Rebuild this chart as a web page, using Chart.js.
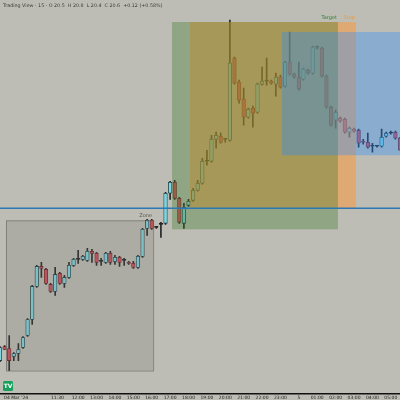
<!DOCTYPE html>
<html>
<head>
<meta charset="utf-8">
<script src="https://cdn.jsdelivr.net/npm/chart.js@4.4.1/dist/chart.umd.min.js"></script>
<style>
  html, body { margin: 0; padding: 0; background: #bebdb5; }
  #wrap { position: relative; width: 400px; height: 400px; overflow: hidden; }
</style>
</head>
<body>
<div id="wrap"><canvas id="chart" width="400" height="403"></canvas></div>
<script>
// candles, one per 15 min bar
const opens  = [40,54,52,44,47,53,65,81,114,134,131,116,109,127,117,123,135,141,141,140,149,147,139,138,147,139,143,140,138,137,133,144,172,180,173,176,177,207,218,202,177,195,200,210,217,239,239,261,264,261,260,342,318,301,283,292,288,316,319,319,316,323,314,338,326,323,321,330,327,353,352,324,293,280,282,281,268,271,270,259,258,254,254,254,264,267,268,262];
const highs  = [54,55,65,48,57,64,82,115,135,138,132,117,133,128,125,138,142,150,145,152,151,148,142,148,149,145,144,142,139,139,145,172,181,181,174,178,208,219,220,203,197,201,212,220,242,250,265,268,267,262,380,343,320,312,292,294,317,333,342,320,327,325,339,368,327,338,332,331,354,354,353,325,294,290,283,282,273,272,271,261,267,257,255,271,268,269,269,263];
const lows   = [39,51,30,40,40,52,64,76,113,123,116,108,105,116,113,122,134,137,140,139,138,135,135,137,136,136,134,135,136,132,132,143,165,171,172,163,176,201,201,177,172,194,199,209,216,235,238,252,257,258,259,316,297,275,282,273,287,315,315,316,304,312,313,325,322,310,320,326,326,351,323,292,274,272,278,267,263,268,253,256,252,248,253,253,263,266,261,250];
const closes = [53,51,40,47,51,63,81,114,134,132,117,109,126,117,123,135,141,141,144,149,147,138,139,147,138,143,138,140,137,133,144,171,180,172,173,176,207,218,202,178,193,199,210,217,239,239,261,265,258,261,337,317,300,283,291,287,316,319,319,317,323,313,338,326,323,311,331,327,353,353,324,293,275,288,279,268,272,269,257,258,253,254,254,263,267,267,262,250];

const tickIndex  = [3.5, 12.5, 17, 21, 25, 29, 33, 37, 41, 45, 49, 53, 57, 61, 65, 69, 73, 77, 81, 85];
const tickLabels = ["04 Mar '24", '11:30', '12:00', '13:00', '14:00', '15:00', '16:00', '17:00', '18:00', '19:00', '20:00', '21:00', '22:00', '23:00', '5', '01:00', '02:00', '03:00', '04:00', '05:00'];

// drawn rectangles (bar index / price)
const boxNames = ['Zone', 'Stop', 'Target', ''];
const boxFrom  = [1.3, 41.3, 37.4, 61.3];
const boxTo    = [33.3, 77.4, 73.5, 90];
const boxHigh  = [180, 378, 378, 368];
const boxLow   = [30, 192, 171, 245];
const levelPrice = 192;

const legendText = 'Trading View \u00b7 15 \u00b7 O 20.5  H 20.8  L 20.4  C 20.6  +0.12 (+0.58%)';

const boxFill   = ['rgba(110,110,105,0.22)', 'rgba(255,150,50,0.5)', 'rgba(60,120,40,0.35)', 'rgba(40,140,255,0.35)'];
const labelCol  = ['#555', '#e39a3b', '#2f7d32', '#000'];

const idx = opens.map((v, i) => i);
const bodyColor = idx.map(i => Math.abs(opens[i] - closes[i]) < 0.6 ? '#222' : (closes[i] > opens[i] ? '#80d6e0' : '#cc4f5b'));
const edgeColor = idx.map(i => Math.abs(opens[i] - closes[i]) < 0.6 ? '#222' : (closes[i] > opens[i] ? '#1f3d41' : '#6a2228'));

const zones = {
  id: 'zones',
  afterDatasetDraw(chart, args) {
    if (args.index !== 0) return;
    const { ctx, chartArea, scales: { x, y } } = chart;
    ctx.save();
    ctx.beginPath();
    ctx.rect(chartArea.left, chartArea.top, chartArea.width, chartArea.height);
    ctx.clip();
    boxNames.forEach((name, i) => {
      const x0 = x.getPixelForValue(boxFrom[i]);
      const x1 = x.getPixelForValue(boxTo[i]);
      const y0 = y.getPixelForValue(boxHigh[i]);
      const y1 = y.getPixelForValue(boxLow[i]);
      ctx.fillStyle = boxFill[i];
      ctx.fillRect(x0, y0, x1 - x0, y1 - y0);
      if (i === 0) {
        ctx.strokeStyle = 'rgba(100,100,95,0.6)';
        ctx.lineWidth = 1;
        ctx.strokeRect(x0 + 0.5, y0 + 0.5, x1 - x0, y1 - y0);
      }
      if (name) {
        ctx.fillStyle = labelCol[i];
        ctx.font = '5px "DejaVu Sans"';
        ctx.textAlign = 'right';
        ctx.textBaseline = 'bottom';
        ctx.fillText(name, x1 - 1, y0 - 2);
      }
    });
    ctx.restore();
  },
  afterDraw(chart) {
    const ctx = chart.ctx;
    ctx.save();
    ctx.fillStyle = '#3a3a3a';
    ctx.font = '4.8px "DejaVu Sans"';
    ctx.textAlign = 'left';
    ctx.textBaseline = 'middle';
    ctx.fillText(legendText, 3, 6);
    // logo
    ctx.fillStyle = '#16a05b';
    ctx.beginPath();
    ctx.roundRect(3, 381, 10, 10, 1.5);
    ctx.fill();
    ctx.fillStyle = '#fff';
    ctx.font = 'bold 6px "DejaVu Sans"';
    ctx.textAlign = 'center';
    ctx.fillText('TV', 8, 386.5);
    ctx.restore();
  }
};

new Chart(document.getElementById('chart'), {
  type: 'bar',
  data: {
    datasets: [
      {
        label: 'body',
        order: 1,
        data: idx.map(i => ({ x: i, y: [opens[i], closes[i]] })),
        backgroundColor: bodyColor,
        borderColor: edgeColor,
        borderWidth: 0.8,
        borderSkipped: false,
        barThickness: 3.6,
        minBarLength: 1,
        grouped: false
      },
      {
        label: 'wick',
        order: 2,
        data: idx.map(i => ({ x: i, y: [lows[i], highs[i]] })),
        backgroundColor: '#262626',
        borderWidth: 0,
        barThickness: 1,
        grouped: false
      },
      {
        type: 'line',
        label: 'level',
        order: 0,
        data: [{ x: 0, y: levelPrice }, { x: 87, y: levelPrice }],
        borderColor: '#2b78b4',
        borderWidth: 1.5,
        pointRadius: 0
      }
    ]
  },
  options: {
    responsive: false,
    animation: false,
    devicePixelRatio: 1,
    layout: { padding: 0 },
    plugins: { legend: { display: false }, tooltip: { enabled: false } },
    scales: {
      x: {
        type: 'linear',
        min: 0,
        max: 87,
        offset: false,
        grid: { display: false, drawTicks: false },
        border: { display: true, color: '#111', width: 1.5 },
        afterBuildTicks: axis => { axis.ticks = tickIndex.map(v => ({ value: v })); },
        ticks: {
          autoSkip: false,
          maxRotation: 0,
          padding: 2,
          color: '#222',
          font: { size: 4.5, family: 'DejaVu Sans' },
          callback: (v, i) => tickLabels[i]
        }
      },
      y: {
        type: 'linear',
        display: false,
        min: 7,
        max: 400
      }
    }
  },
  plugins: [zones]
});
</script>
</body>
</html>
